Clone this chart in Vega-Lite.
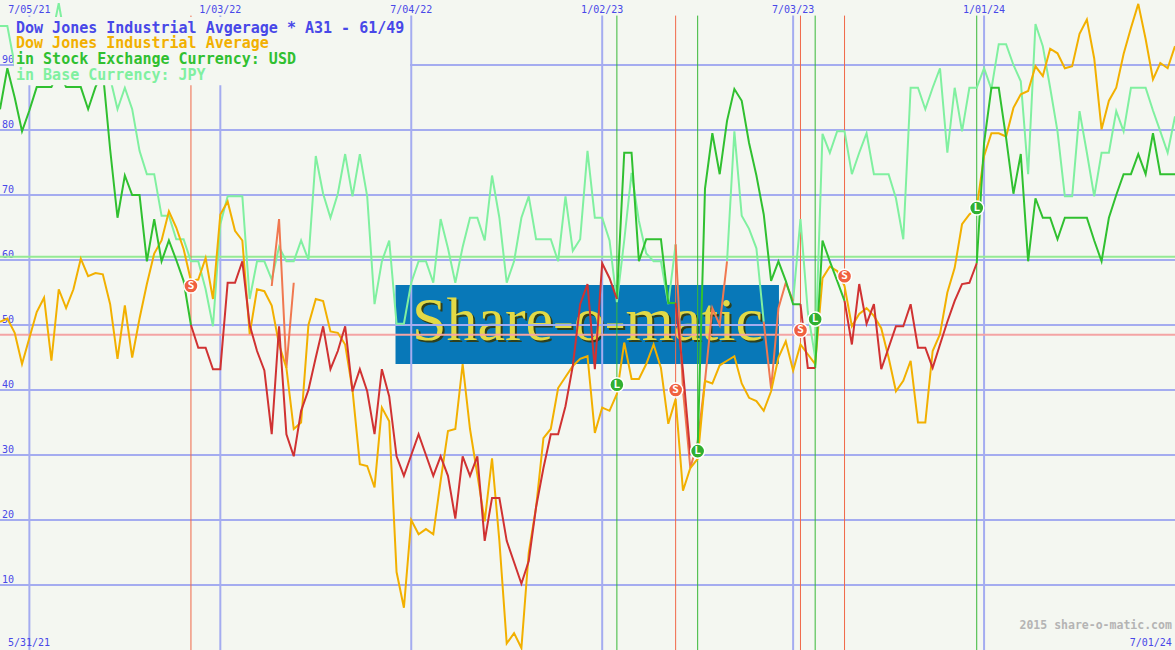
{
"$schema":"https://vega.github.io/schema/vega-lite/v6.json",
"width":1175,"height":650,"autosize":{"type":"none"},"padding":0,
"background":"#f4f7f1",
"config":{"view":{"stroke":null}},
"datasets":{
"weekly":[
{"date":"2021-06-07","djia":50.5,"usd":83.2,"jpy":96},
{"date":"2021-06-14","djia":51,"usd":89.5,"jpy":96},
{"date":"2021-06-21","djia":48.8,"usd":85,"jpy":90},
{"date":"2021-06-28","djia":44,"usd":79.8,"jpy":92},
{"date":"2021-07-05","djia":48,"usd":83,"jpy":93},
{"date":"2021-07-12","djia":52,"usd":86.6,"jpy":92},
{"date":"2021-07-19","djia":54.2,"usd":86.6,"jpy":92},
{"date":"2021-07-26","djia":44.5,"usd":86.6,"jpy":94},
{"date":"2021-08-02","djia":55.5,"usd":89,"jpy":99.5},
{"date":"2021-08-09","djia":52.6,"usd":86.6,"jpy":93},
{"date":"2021-08-16","djia":55.5,"usd":86.6,"jpy":94},
{"date":"2021-08-23","djia":60.2,"usd":86.6,"jpy":93},
{"date":"2021-08-30","djia":57.5,"usd":83.2,"jpy":92},
{"date":"2021-09-06","djia":58,"usd":86.6,"jpy":93},
{"date":"2021-09-13","djia":57.8,"usd":89,"jpy":94},
{"date":"2021-09-20","djia":53.2,"usd":77,"jpy":88},
{"date":"2021-09-27","djia":44.8,"usd":66.5,"jpy":83.2},
{"date":"2021-10-04","djia":53,"usd":73,"jpy":86.5},
{"date":"2021-10-11","djia":45,"usd":70,"jpy":83.2},
{"date":"2021-10-18","djia":51,"usd":70,"jpy":76.8},
{"date":"2021-10-25","djia":56.3,"usd":59.8,"jpy":73.2},
{"date":"2021-11-01","djia":61,"usd":66.3,"jpy":73.2},
{"date":"2021-11-08","djia":63,"usd":59.8,"jpy":66.8},
{"date":"2021-11-15","djia":67.5,"usd":63,"jpy":66.8},
{"date":"2021-11-22","djia":65,"usd":60,"jpy":63.2},
{"date":"2021-11-29","djia":61.7,"usd":56.8,"jpy":63.2},
{"date":"2021-12-06","djia":56.8,"usd":50,"usdSold":50,"jpy":59.8},
{"date":"2021-12-13","djia":57,"usdSold":46.5,"jpy":59.8},
{"date":"2021-12-20","djia":60.3,"usdSold":46.5,"jpy":55.5},
{"date":"2021-12-27","djia":54,"usdSold":43.2,"jpy":49.8},
{"date":"2022-01-03","djia":67,"usdSold":43.2,"jpy":65.5},
{"date":"2022-01-10","djia":69,"usdSold":56.5,"jpy":69.8},
{"date":"2022-01-17","djia":64.5,"usdSold":56.5,"jpy":69.8},
{"date":"2022-01-24","djia":63,"usdSold":59.8,"jpy":69.8},
{"date":"2022-01-31","djia":48.6,"usdSold":50,"jpy":54},
{"date":"2022-02-07","djia":55.5,"usdSold":46,"jpy":59.8},
{"date":"2022-02-14","djia":55.2,"usdSold":43,"jpy":59.8},
{"date":"2022-02-21","djia":53,"usdSold":33.2,"jpy":57,"jpySold":56},
{"date":"2022-02-28","djia":47,"usdSold":49.8,"jpy":62,"jpySold":66.3},
{"date":"2022-03-07","djia":43.4,"usdSold":33.2,"jpy":59.8,"jpySold":43.4},
{"date":"2022-03-14","djia":34,"usdSold":29.8,"jpy":59.8,"jpySold":56.5},
{"date":"2022-03-21","djia":35,"usdSold":36.8,"jpy":63},
{"date":"2022-03-28","djia":50,"usdSold":40,"jpy":60},
{"date":"2022-04-04","djia":54,"usdSold":45,"jpy":76},
{"date":"2022-04-11","djia":53.7,"usdSold":49.8,"jpy":70.2},
{"date":"2022-04-18","djia":49,"usdSold":43.2,"jpy":66.5},
{"date":"2022-04-25","djia":48.8,"usdSold":46,"jpy":70.2},
{"date":"2022-05-02","djia":47,"usdSold":49.8,"jpy":76.3},
{"date":"2022-05-09","djia":40,"usdSold":39.8,"jpy":69.8},
{"date":"2022-05-16","djia":28.6,"usdSold":43.2,"jpy":76.3},
{"date":"2022-05-23","djia":28.3,"usdSold":39.8,"jpy":69.8},
{"date":"2022-05-30","djia":25,"usdSold":33.2,"jpy":53.2},
{"date":"2022-06-06","djia":37.3,"usdSold":43.2,"jpy":59.8},
{"date":"2022-06-13","djia":35.2,"usdSold":39,"jpy":63},
{"date":"2022-06-20","djia":12,"usdSold":29.8,"jpy":50.2},
{"date":"2022-06-27","djia":6.5,"usdSold":26.8,"jpy":50.2},
{"date":"2022-07-04","djia":20,"usdSold":30,"jpy":56.5},
{"date":"2022-07-11","djia":17.8,"usdSold":33.2,"jpy":59.8},
{"date":"2022-07-18","djia":18.6,"usdSold":30,"jpy":59.8},
{"date":"2022-07-25","djia":17.8,"usdSold":26.8,"jpy":56.5},
{"date":"2022-08-01","djia":26,"usdSold":29.8,"jpy":66.3},
{"date":"2022-08-08","djia":33.7,"usdSold":26.8,"jpy":61.8},
{"date":"2022-08-15","djia":34,"usdSold":20.2,"jpy":56.5},
{"date":"2022-08-22","djia":44,"usdSold":29.8,"jpy":62},
{"date":"2022-08-29","djia":34,"usdSold":26.8,"jpy":66.5},
{"date":"2022-09-05","djia":27,"usdSold":29.8,"jpy":66.5},
{"date":"2022-09-12","djia":19.8,"usdSold":16.8,"jpy":63},
{"date":"2022-09-19","djia":29.5,"usdSold":23.4,"jpy":73},
{"date":"2022-09-26","djia":16.8,"usdSold":23.4,"jpy":66.5},
{"date":"2022-10-03","djia":1,"usdSold":16.8,"jpy":56.5},
{"date":"2022-10-10","djia":2.6,"usdSold":13.5,"jpy":59.8},
{"date":"2022-10-17","djia":0.3,"usdSold":10.2,"jpy":66.5},
{"date":"2022-10-24","djia":15,"usdSold":13.7,"jpy":69.8},
{"date":"2022-10-31","djia":22,"usdSold":22,"jpy":63.2},
{"date":"2022-11-07","djia":32.6,"usdSold":28,"jpy":63.2},
{"date":"2022-11-14","djia":34,"usdSold":33.2,"jpy":63.2},
{"date":"2022-11-21","djia":40.3,"usdSold":33.2,"jpy":59.8},
{"date":"2022-11-28","djia":42,"usdSold":37.5,"jpy":69.8},
{"date":"2022-12-05","djia":43.7,"usdSold":43.7,"jpy":61.4},
{"date":"2022-12-12","djia":44.8,"usdSold":53.2,"jpy":63.2},
{"date":"2022-12-19","djia":45.2,"usdSold":56.3,"jpy":76.8},
{"date":"2022-12-26","djia":33.4,"usdSold":43.2,"jpy":66.5},
{"date":"2023-01-02","djia":37.3,"usdSold":59.5,"jpy":66.5},
{"date":"2023-01-09","djia":36.8,"usdSold":57.2,"jpy":63},
{"date":"2023-01-16","djia":39.4,"usd":54,"usdSold":54,"jpy":53.5},
{"date":"2023-01-23","djia":47.3,"usd":76.5,"jpy":63},
{"date":"2023-01-30","djia":41.7,"usd":76.5,"jpy":73.4},
{"date":"2023-02-06","djia":41.7,"usd":59.8,"jpy":66},
{"date":"2023-02-13","djia":44,"usd":63.2,"jpy":61},
{"date":"2023-02-20","djia":47,"usd":63.2,"jpy":59.8},
{"date":"2023-02-27","djia":43.4,"usd":63.2,"jpy":59.8},
{"date":"2023-03-06","djia":34.8,"usd":53.4,"jpy":53.2},
{"date":"2023-03-13","djia":38.6,"usd":53.4,"usdSold":53.4,"jpy":62.4,"jpySold":62.4},
{"date":"2023-03-20","djia":24.5,"usdSold":43,"jpySold":40},
{"date":"2023-03-27","djia":28,"usdSold":30.2,"jpySold":28},
{"date":"2023-04-03","djia":29.4,"usd":31,"usdSold":31,"jpySold":32},
{"date":"2023-04-10","djia":41.4,"usd":71,"jpySold":41.4},
{"date":"2023-04-17","djia":41,"usd":79.5,"jpySold":52.6},
{"date":"2023-04-24","djia":43.8,"usd":73.2,"jpySold":50},
{"date":"2023-05-01","djia":44.5,"usd":81.4,"jpy":59.8,"jpySold":59.8},
{"date":"2023-05-08","djia":45.2,"usd":86.3,"jpy":79.8},
{"date":"2023-05-15","djia":41,"usd":84.5,"jpy":66.8},
{"date":"2023-05-22","djia":38.8,"usd":78,"jpy":64.8},
{"date":"2023-05-29","djia":38.3,"usd":73,"jpy":61.8},
{"date":"2023-06-05","djia":36.8,"usd":67,"jpy":50.5,"jpySold":50.5},
{"date":"2023-06-12","djia":39.8,"usd":56.8,"jpySold":40.2},
{"date":"2023-06-19","djia":45,"usd":59.8,"jpySold":52.6},
{"date":"2023-06-26","djia":47.5,"usd":56.8,"jpySold":56.5},
{"date":"2023-07-03","djia":43,"usd":53.2,"jpy":53.7,"jpySold":53.7},
{"date":"2023-07-10","djia":47,"usd":53.2,"usdSold":53.2,"jpy":66.3},
{"date":"2023-07-17","djia":45.5,"usdSold":43.4,"jpy":52},
{"date":"2023-07-24","djia":44,"usd":43.4,"usdSold":43.4,"jpy":45},
{"date":"2023-07-31","djia":57.2,"usd":63,"jpy":79.4},
{"date":"2023-08-07","djia":59,"usd":59.8,"jpy":76.5},
{"date":"2023-08-14","djia":58.3,"usd":56.8,"jpy":79.8},
{"date":"2023-08-21","djia":56,"usd":53.7,"usdSold":53.7,"jpy":79.8},
{"date":"2023-08-28","djia":49.8,"usdSold":47,"jpy":73.2},
{"date":"2023-09-04","djia":51.7,"usdSold":56.3,"jpy":76.5},
{"date":"2023-09-11","djia":52.6,"usdSold":50.2,"jpy":79.5},
{"date":"2023-09-18","djia":51.4,"usdSold":53.2,"jpy":73.2},
{"date":"2023-09-25","djia":49.5,"usdSold":43.2,"jpy":73.2},
{"date":"2023-10-02","djia":45,"usdSold":46.5,"jpy":73.2},
{"date":"2023-10-09","djia":39.8,"usdSold":49.8,"jpy":69.5},
{"date":"2023-10-16","djia":41.4,"usdSold":49.8,"jpy":63.2},
{"date":"2023-10-23","djia":44.5,"usdSold":53.2,"jpy":86.5},
{"date":"2023-10-30","djia":35,"usdSold":46.5,"jpy":86.5},
{"date":"2023-11-06","djia":35,"usdSold":46.5,"jpy":83.2},
{"date":"2023-11-13","djia":46,"usdSold":43.4,"jpy":86.5},
{"date":"2023-11-20","djia":48.6,"usdSold":47,"jpy":89.5},
{"date":"2023-11-27","djia":55,"usdSold":50.5,"jpy":76.5},
{"date":"2023-12-04","djia":58.8,"usdSold":53.7,"jpy":86.5},
{"date":"2023-12-11","djia":65.5,"usdSold":56.3,"jpy":79.8},
{"date":"2023-12-18","djia":67,"usdSold":56.5,"jpy":86.5},
{"date":"2023-12-25","djia":68,"usd":59.5,"usdSold":59.5,"jpy":86.5},
{"date":"2024-01-01","djia":76,"usd":78,"jpy":89.5},
{"date":"2024-01-08","djia":79.5,"usd":86.5,"jpy":86.3},
{"date":"2024-01-15","djia":79.5,"usd":86.5,"jpy":93.2},
{"date":"2024-01-22","djia":79,"usd":78.8,"jpy":93.2},
{"date":"2024-01-29","djia":83.4,"usd":70.2,"jpy":90},
{"date":"2024-02-05","djia":85.5,"usd":76.3,"jpy":87.5},
{"date":"2024-02-12","djia":86,"usd":59.8,"jpy":73.2},
{"date":"2024-02-19","djia":89.8,"usd":69.5,"jpy":96.3},
{"date":"2024-02-26","djia":88.3,"usd":66.5,"jpy":92.9},
{"date":"2024-03-04","djia":92.5,"usd":66.5,"jpy":86.5},
{"date":"2024-03-11","djia":91.8,"usd":63.2,"jpy":79.8},
{"date":"2024-03-18","djia":89.5,"usd":66.5,"jpy":69.8},
{"date":"2024-03-25","djia":89.8,"usd":66.5,"jpy":69.8},
{"date":"2024-04-01","djia":94.8,"usd":66.5,"jpy":82.9},
{"date":"2024-04-08","djia":97,"usd":66.5,"jpy":76.5},
{"date":"2024-04-15","djia":91,"usd":63,"jpy":69.8},
{"date":"2024-04-22","djia":80.1,"usd":59.8,"jpy":76.5},
{"date":"2024-04-29","djia":84.5,"usd":66.5,"jpy":76.5},
{"date":"2024-05-06","djia":86.5,"usd":70,"jpy":82.9},
{"date":"2024-05-13","djia":91.7,"usd":73.2,"jpy":79.8},
{"date":"2024-05-20","djia":95.7,"usd":73.2,"jpy":86.5},
{"date":"2024-05-27","djia":99.4,"usd":76.3,"jpy":86.5},
{"date":"2024-06-03","djia":94,"usd":73.2,"jpy":86.5},
{"date":"2024-06-10","djia":87.8,"usd":79.5,"jpy":83},
{"date":"2024-06-17","djia":90.3,"usd":73.2,"jpy":79.8},
{"date":"2024-06-24","djia":89.5,"usd":73.2,"jpy":76.5},
{"date":"2024-07-01","djia":92.9,"usd":73.2,"jpy":82.1}
],
"signals":[
{"date":"2021-12-06","type":"S","v":56},
{"date":"2023-01-16","type":"L","v":40.8},
{"date":"2023-03-13","type":"S","v":40},
{"date":"2023-04-03","type":"L","v":30.6},
{"date":"2023-07-10","type":"S","v":49.2},
{"date":"2023-07-24","type":"L","v":50.9},
{"date":"2023-08-21","type":"S","v":57.5},
{"date":"2023-12-25","type":"L","v":68}
],
"vgrid":[{"date":"2021-07-05","label":"7/05/21"},{"date":"2022-01-03","label":"1/03/22"},{"date":"2022-07-04","label":"7/04/22"},{"date":"2023-01-02","label":"1/02/23"},{"date":"2023-07-03","label":"7/03/23"},{"date":"2024-01-01","label":"1/01/24"}],
"hgrid":[{"v":10,"label":"10"},{"v":20,"label":"20"},{"v":30,"label":"30"},{"v":40,"label":"40"},{"v":50,"label":"50"},{"v":60,"label":"60"},{"v":70,"label":"70"},{"v":80,"label":"80"},{"v":90,"label":"90"}]
},
"layer":[
{"data":{"values":[{}]},"mark":{"type":"rect","color":"#0878b8"},
 "encoding":{"x":{"datum":{"year":2022,"month":6,"date":19,"utc":true},"type":"temporal","scale":{"type":"utc","domain":[{"year":2021,"month":6,"date":7,"utc":true},{"year":2024,"month":7,"date":1,"utc":true}]},"axis":null},
 "x2":{"datum":{"year":2023,"month":6,"date":19,"hours":12,"utc":true}},
 "y":{"datum":56.15,"type":"quantitative","scale":{"domain":[0,100],"nice":false,"zero":false},"axis":null},
 "y2":{"datum":44}}},
{"data":{"values":[{}]},"mark":{"type":"text","text":"Share-o-matic","font":"Liberation Serif","fontSize":62,"color":"#30401c","align":"center","baseline":"alphabetic","dx":2,"dy":2},
 "encoding":{"x":{"datum":{"year":2022,"month":12,"date":19,"utc":true},"type":"temporal","axis":null},"y":{"datum":47.7,"type":"quantitative","axis":null}}},
{"data":{"values":[{}]},"mark":{"type":"text","text":"Share-o-matic","font":"Liberation Serif","fontSize":62,"color":"#e2da46","align":"center","baseline":"alphabetic"},
 "encoding":{"x":{"datum":{"year":2022,"month":12,"date":19,"utc":true},"type":"temporal","axis":null},"y":{"datum":47.7,"type":"quantitative","axis":null}}},
{"data":{"name":"hgrid"},"mark":{"type":"rule","color":"#a4acf0","strokeWidth":2},
 "encoding":{"y":{"field":"v","type":"quantitative","axis":null}}},
{"data":{"name":"hgrid"},"mark":{"type":"text","font":"DejaVu Sans Mono","fontSize":10,"color":"#4848e8","align":"left","baseline":"alphabetic","dy":-2},
 "encoding":{"x":{"datum":{"year":2021,"month":6,"date":8,"hours":22,"utc":true},"type":"temporal","axis":null},"y":{"field":"v","type":"quantitative","axis":null},"text":{"field":"label"}}},
{"data":{"name":"vgrid"},"mark":{"type":"rule","color":"#a4acf0","strokeWidth":2},
 "encoding":{"x":{"field":"date","type":"temporal","axis":null},"y":{"datum":97.6,"type":"quantitative","axis":null},"y2":{"datum":0}}},
{"data":{"name":"vgrid"},"mark":{"type":"text","font":"DejaVu Sans Mono","fontSize":10,"color":"#4848e8","align":"center","baseline":"alphabetic"},
 "encoding":{"x":{"field":"date","type":"temporal","axis":null},"y":{"datum":98.0,"type":"quantitative","axis":null},"text":{"field":"label"}}},
{"data":{"values":[{}]},"mark":{"type":"rule","color":"#94ea94","strokeWidth":2},
 "encoding":{"y":{"datum":60.5,"type":"quantitative","axis":null}}},
{"data":{"values":[{}]},"mark":{"type":"rule","color":"#f4a4a4","strokeWidth":2},
 "encoding":{"y":{"datum":48.5,"type":"quantitative","axis":null}}},
{"data":{"name":"signals"},"mark":{"type":"rule","strokeWidth":1},
 "encoding":{"x":{"field":"date","type":"temporal","axis":null},"y":{"datum":97.6,"type":"quantitative","axis":null},"y2":{"datum":0},
  "color":{"condition":{"test":"datum.type === 'S'","value":"#f06848"},"value":"#38b838"}}},
{"data":{"name":"weekly"},"transform":[{"fold":["jpy","jpySold","djia","usd","usdSold"],"as":["series","value"]}],
 "mark":{"type":"line","strokeWidth":2,"invalid":"break-paths-show-domains"},
 "encoding":{"x":{"field":"date","type":"temporal","axis":null},
  "y":{"field":"value","type":"quantitative","axis":null},
  "color":{"field":"series","type":"nominal","scale":{"domain":["jpy","jpySold","djia","usd","usdSold"],"range":["#80f0a0","#f07850","#f2b000","#30c030","#d03232"]},"legend":null}}},
{"data":{"name":"signals"},"mark":{"type":"circle","size":200,"stroke":"white","strokeWidth":1.5,"opacity":1},
 "encoding":{"x":{"field":"date","type":"temporal","axis":null},"y":{"field":"v","type":"quantitative","axis":null},
  "fill":{"condition":{"test":"datum.type === 'S'","value":"#f06040"},"value":"#30b030"}}},
{"data":{"name":"signals"},"mark":{"type":"text","font":"DejaVu Sans Mono","fontSize":11,"fontWeight":"bold","color":"white","align":"center","baseline":"middle"},
 "encoding":{"x":{"field":"date","type":"temporal","axis":null},"y":{"field":"v","type":"quantitative","axis":null},"text":{"field":"type"}}},
{"data":{"values":[{}]},"mark":{"type":"rect","color":"#f4f7f1"},
 "encoding":{"x":{"datum":{"year":2021,"month":6,"date":20,"hours":8,"utc":true},"type":"temporal","axis":null},"x2":{"datum":{"year":2022,"month":7,"date":2,"hours":20,"utc":true}},
  "y":{"datum":97.4,"type":"quantitative","axis":null},"y2":{"datum":86.9}}},
{"data":{"values":[{}]},"mark":{"type":"text","text":"Dow Jones Industrial Avgerage * A31 - 61/49","font":"DejaVu Sans Mono","fontSize":15,"fontWeight":"bold","color":"#4848e8","align":"left","baseline":"alphabetic"},
 "encoding":{"x":{"datum":{"year":2021,"month":6,"date":22,"hours":6,"utc":true},"type":"temporal","axis":null},"y":{"datum":95.0,"type":"quantitative","axis":null}}},
{"data":{"values":[{}]},"mark":{"type":"text","text":"Dow Jones Industrial Average","font":"DejaVu Sans Mono","fontSize":15,"fontWeight":"bold","color":"#f2b000","align":"left","baseline":"alphabetic"},
 "encoding":{"x":{"datum":{"year":2021,"month":6,"date":22,"hours":6,"utc":true},"type":"temporal","axis":null},"y":{"datum":92.54,"type":"quantitative","axis":null}}},
{"data":{"values":[{}]},"mark":{"type":"text","text":"in Stock Exchange Currency: USD","font":"DejaVu Sans Mono","fontSize":15,"fontWeight":"bold","color":"#30c030","align":"left","baseline":"alphabetic"},
 "encoding":{"x":{"datum":{"year":2021,"month":6,"date":22,"hours":6,"utc":true},"type":"temporal","axis":null},"y":{"datum":90.08,"type":"quantitative","axis":null}}},
{"data":{"values":[{}]},"mark":{"type":"text","text":"in Base Currency: JPY","font":"DejaVu Sans Mono","fontSize":15,"fontWeight":"bold","color":"#80f0a0","align":"left","baseline":"alphabetic"},
 "encoding":{"x":{"datum":{"year":2021,"month":6,"date":22,"hours":6,"utc":true},"type":"temporal","axis":null},"y":{"datum":87.62,"type":"quantitative","axis":null}}},
{"data":{"values":[{}]},"mark":{"type":"text","text":"5/31/21","font":"DejaVu Sans Mono","fontSize":10,"color":"#4848e8","align":"left","baseline":"alphabetic"},
 "encoding":{"x":{"datum":{"year":2021,"month":6,"date":14,"hours":14,"utc":true},"type":"temporal","axis":null},"y":{"datum":0.6,"type":"quantitative","axis":null}}},
{"data":{"values":[{}]},"mark":{"type":"text","text":"7/01/24","font":"DejaVu Sans Mono","fontSize":10,"color":"#4848e8","align":"right","baseline":"alphabetic"},
 "encoding":{"x":{"datum":{"year":2024,"month":6,"date":28,"utc":true},"type":"temporal","axis":null},"y":{"datum":0.6,"type":"quantitative","axis":null}}},
{"data":{"values":[{}]},"mark":{"type":"text","text":"2015 share-o-matic.com","font":"DejaVu Sans Mono","fontSize":11.5,"fontWeight":"bold","color":"#b4b4b4","align":"right","baseline":"alphabetic"},
 "encoding":{"x":{"datum":{"year":2024,"month":6,"date":28,"utc":true},"type":"temporal","axis":null},"y":{"datum":3.2,"type":"quantitative","axis":null}}}
]
}
